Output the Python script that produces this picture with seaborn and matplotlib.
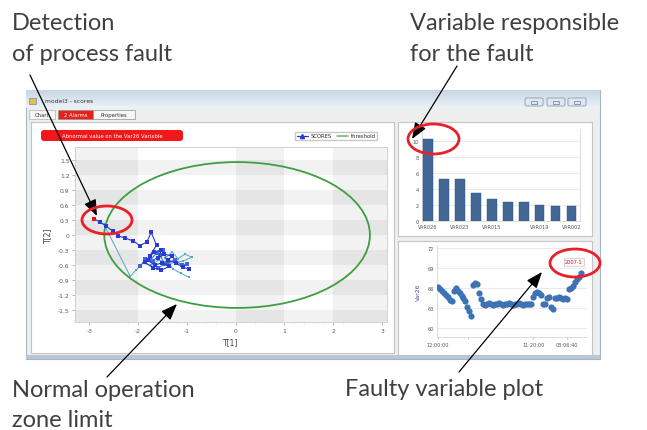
import numpy as np
import pandas as pd
import matplotlib
matplotlib.use("Agg")
import matplotlib.pyplot as plt
import seaborn as sns
from matplotlib.patches import Ellipse, Rectangle, FancyBboxPatch
from matplotlib.lines import Line2D

W, H = 647, 431

# ---------------- data ----------------
# score trajectory (T[1], T[2]) – main blue run, ends at the abnormal point
scores_a_t1 = [-0.95, -1.08, -1.22, -1.38, -1.30, -1.46, -1.58, -1.52, -1.68, -1.80, -1.66, -1.50, -1.36, -1.52,
               -1.70, -1.86, -1.76, -1.62, -1.73, -1.82, -1.96, -2.10, -2.26, -2.40, -2.52, -2.66, -2.78, -2.90]
scores_a_t2 = [-0.68, -0.64, -0.56, -0.50, -0.42, -0.38, -0.46, -0.30, -0.34, -0.50, -0.60, -0.55, -0.62, -0.70,
               -0.65, -0.54, -0.42, -0.20, 0.05, -0.14, -0.21, -0.12, -0.06, -0.02, 0.08, 0.18, 0.26, 0.32]
# lighter run
scores_b_t1 = [-0.96, -1.12, -1.28, -1.44, -1.30, -1.18, -1.04, -0.90, -1.08, -1.34, -1.58, -1.74, -1.90, -2.04, -2.16, -2.70]
scores_b_t2 = [-0.84, -0.76, -0.68, -0.46, -0.34, -0.47, -0.38, -0.44, -0.52, -0.56, -0.50, -0.60, -0.56, -0.70, -0.82, 0.22]
# dense cluster run
scores_c_t1 = [-1.95, -1.85, -1.70, -1.55, -1.45, -1.60, -1.75, -1.62, -1.48, -1.40, -1.25, -1.10, -1.00]
scores_c_t2 = [-0.62, -0.48, -0.52, -0.40, -0.58, -0.66, -0.50, -0.36, -0.30, -0.55, -0.50, -0.60, -0.58]
fault_t1 = [-2.90]
fault_t2 = [0.32]
# threshold ellipse (center, semi-axes)
threshold_center = (0.03, 0.0)
threshold_semi = (2.72, 1.45)

# contributions
contrib_rank = list(range(1, 11))
contrib_values = [10.3, 5.3, 5.2, 3.5, 2.8, 2.4, 2.4, 2.0, 1.85, 1.85]
contrib_ticklabels = ["VAR026", "", "VAR023", "", "VAR015", "", "", "VAR019", "", "VAR002"]

# Var26 time series
var26_values = [66.2, 65.9, 65.5, 65.2, 64.9, 64.6, 64.2, 64.0, 65.5, 66.0, 65.6, 65.2, 64.8, 64.5, 64.0, 63.2,
                62.5, 61.7, 66.5, 66.8, 66.6, 65.2, 64.4,
                63.6, 63.5, 63.6, 63.7, 63.6, 63.5, 63.6, 63.6, 63.7, 63.6, 63.5, 63.6, 63.6, 63.7, 63.6, 63.5,
                63.6, 63.6, 63.7, 63.6, 63.5, 63.6, 63.6, 63.6, 63.6,
                64.6, 65.2, 65.4, 65.3, 64.9, 63.6, 63.6, 64.5, 64.6, 63.2, 62.8, 64.5, 64.5, 64.6, 64.5, 64.4,
                64.5, 64.3, 65.8, 66.0, 66.3, 66.9, 67.3, 67.6, 68.2]
var26_ticklabels = ["12:00:00", "", "11:20:00", "03:06:40"]

# ---------------- figure ----------------
sns.set_theme(style="white")
plt.rcParams['font.family'] = ['DejaVu Sans']
fig = plt.figure(figsize=(W / 100, H / 100), dpi=100)
fig.patch.set_facecolor("white")


def rect(x0, y0, x1, y1):
    return [x0 / W, 1 - y1 / H, (x1 - x0) / W, (y1 - y0) / H]


bg = fig.add_axes([0, 0, 1, 1])
bg.set_xlim(0, W)
bg.set_ylim(H, 0)
bg.axis("off")

# window
bg.add_patch(Rectangle((26, 91), 574, 269, facecolor="#eeeeee", edgecolor="#a8b4c2", lw=0.8))
grad = np.linspace(0, 1, 50).reshape(-1, 1)
bg.imshow(grad, extent=(26, 600, 109, 91), cmap=matplotlib.colors.LinearSegmentedColormap.from_list(
    "t", ["#c8d5e4", "#edf2f8"]), aspect="auto", zorder=1)
bg.add_patch(Rectangle((26, 356), 574, 4, facecolor="#b8c6d6", edgecolor="none", zorder=2))
bg.add_patch(Rectangle((29, 99), 7, 6, facecolor="#e8c040", edgecolor="#6b86b5", lw=0.5, zorder=3))
bg.text(45, 102, "model3 - scores", fontsize=4.3, color="#333333", va="center", zorder=3)
for bx0 in (525, 547, 568):
    bg.add_patch(FancyBboxPatch((bx0, 99), 18, 8, boxstyle="round,pad=0,rounding_size=1.5",
                                facecolor="#dfe7f1", edgecolor="#8c9bb0", lw=0.6, zorder=3))
    bg.add_patch(Rectangle((bx0 + 6, 101.5), 6, 3, facecolor="none", edgecolor="#6a7a90", lw=0.5, zorder=4))
# tabs
bg.add_patch(Rectangle((29, 111), 26, 9, facecolor="#f6f6f6", edgecolor="#b0b0b0", lw=0.5))
bg.text(42, 115.5, "Chart", fontsize=3.8, color="#333", ha="center", va="center")
bg.add_patch(Rectangle((58, 111), 35, 9, facecolor="#e8201a", edgecolor="#909090", lw=0.5))
bg.text(75.5, 115.5, "2 Alarms", fontsize=3.8, color="white", ha="center", va="center")
bg.add_patch(Rectangle((93, 111), 42, 9, facecolor="#f6f6f6", edgecolor="#909090", lw=0.5))
bg.text(114, 115.5, "Properties", fontsize=3.8, color="#333", ha="center", va="center")
# panels
bg.add_patch(Rectangle((31, 123), 363, 231, facecolor="white", edgecolor="#c4c4c4", lw=0.8))
bg.add_patch(Rectangle((398, 123), 194, 114, facecolor="white", edgecolor="#c4c4c4", lw=0.8))
bg.add_patch(Rectangle((398, 242), 194, 114, facecolor="white", edgecolor="#c4c4c4", lw=0.8))
# alarm label
bg.add_patch(FancyBboxPatch((41, 131), 142, 11, boxstyle="round,pad=0,rounding_size=3",
                            facecolor="#f01818", edgecolor="none"))
bg.text(112, 136.5, "Abnormal value on the Var26 Variable", fontsize=3.8, color="white",
        ha="center", va="center")

# ---------------- scores plot ----------------
ax = fig.add_axes(rect(75, 148, 387, 323))
ax.set_xlim(-3.29, 3.1)
ax.set_ylim(-1.73, 1.75)
ax.set_facecolor("white")
for y0 in (1.2, 0.6, 0.0, -0.6, -1.2, -1.8):
    ax.axhspan(y0, y0 + 0.3, color="#000000", alpha=0.05, lw=0, zorder=0)
for x0, x1 in ((-3.4, -2.0), (0.0, 1.0), (2.0, 3.2)):
    ax.axvspan(x0, x1, color="#000000", alpha=0.05, lw=0, zorder=0)

ell = Ellipse(threshold_center, 2 * threshold_semi[0], 2 * threshold_semi[1], fill=False,
              edgecolor="#3f9e3f", lw=1.3, zorder=2)
ax.add_patch(ell)

sns.lineplot(x=scores_b_t1, y=scores_b_t2, sort=False, estimator=None, color="#55a6c8", marker="s",
             markersize=2.0, markeredgewidth=0, lw=0.7, ax=ax, legend=False, zorder=3)
sns.lineplot(x=scores_c_t1, y=scores_c_t2, sort=False, estimator=None, color="#3a6ad8", marker="s",
             markersize=2.2, markeredgewidth=0, lw=0.7, ax=ax, legend=False, zorder=3)
sns.lineplot(x=scores_a_t1, y=scores_a_t2, sort=False, estimator=None, color="#2a3ad0", marker="s",
             markersize=2.4, markeredgewidth=0, lw=0.8, ax=ax, legend=False, zorder=4)
sns.scatterplot(x=fault_t1, y=fault_t2, color="#ee1111", marker="s", s=7, linewidth=0, ax=ax, zorder=5)

ax.set_xticks(range(-3, 4))
ax.set_xticklabels([str(v) for v in range(-3, 4)])
yt = [1.5, 1.2, 0.9, 0.6, 0.3, 0.0, -0.3, -0.6, -0.9, -1.2, -1.5]
ax.set_yticks(yt)
ax.set_yticklabels(["0" if v == 0 else f"{v:g}" for v in yt])
ax.set_xticks(np.arange(-3.2, 3.11, 0.2), minor=True)
ax.set_yticks(np.arange(-1.7, 1.71, 0.1), minor=True)
ax.tick_params(axis="both", which="major", labelsize=4.3, labelcolor="#555555", length=2, width=0.5,
               color="#999999", pad=2, bottom=True, left=True)
ax.tick_params(axis="both", which="minor", length=1, width=0.4, color="#aaaaaa", bottom=True, left=True)
for s in ax.spines.values():
    s.set_color("#cccccc")
    s.set_linewidth(0.6)
ax.set_xlabel("T[1]", fontsize=5.5, color="#444444", labelpad=3)
ax.set_ylabel("T[2]", fontsize=5.5, color="#444444", labelpad=4)
ax.grid(False)

handles = [Line2D([], [], color="#2a3ad0", marker="^", markersize=3, lw=0.9),
           Line2D([], [], color="#6cbf6c", lw=1.2)]
ax.legend(handles, ["SCORES", "threshold"], loc="center", bbox_to_anchor=(336 / W, 1 - 137 / H),
          bbox_transform=fig.transFigure, ncol=2, fontsize=3.8, frameon=True, fancybox=False,
          edgecolor="#bbbbbb", handlelength=2.2, borderpad=0.35, columnspacing=1.0, handletextpad=0.4)

# ---------------- contributions bar chart ----------------
bx = fig.add_axes(rect(422, 130, 580, 222))
sns.barplot(x=contrib_rank, y=contrib_values, color="#3566a3", width=0.6, ax=bx, zorder=3,
            edgecolor="#2a4f80", linewidth=0.3)
bx.set_xlim(-0.36, 9.52)
bx.set_ylim(0, 11.5)
bx.set_yticks([0, 2, 4, 6, 8, 10])
bx.set_xticks(range(10))
bx.set_xticklabels(contrib_ticklabels)
bx.set_xlabel("")
bx.set_ylabel("")
bx.yaxis.grid(True, color="#e2e2e2", lw=0.5)
bx.tick_params(axis="both", labelsize=3.6, labelcolor="#555555", length=0, pad=2)
for k, s in bx.spines.items():
    s.set_color("#d0d0d0")
    s.set_linewidth(0.5)
bx.spines["top"].set_visible(False)

# ---------------- Var26 time series ----------------
tx = fig.add_axes(rect(437, 246, 587, 338))
idx = list(range(len(var26_values)))
sns.scatterplot(x=idx, y=var26_values, color="#3d72b4", s=20, linewidth=0, ax=tx, zorder=3)
tx.set_xlim(-0.3, 75)
tx.set_ylim(58.6, 72.5)
tx.set_yticks([60, 63, 66, 69, 72])
tx.set_xticks([0, 15.5, 48, 65])
tx.set_xticklabels(var26_ticklabels)
tx.yaxis.grid(True, color="#e2e2e2", lw=0.5)
tx.tick_params(axis="both", labelsize=3.6, labelcolor="#555555", length=1.5, width=0.4, color="#999",
               pad=2, bottom=True)
tx.tick_params(axis="y", length=0)
for s in tx.spines.values():
    s.set_color("#d0d0d0")
    s.set_linewidth(0.5)
tx.spines["top"].set_visible(False)
tx.spines["right"].set_visible(False)
tx.set_ylabel("Var26", fontsize=4.3, color="#4a4aa8", labelpad=5)

# ---------------- overlay: annotations ----------------
fg = fig.add_axes([0, 0, 1, 1], facecolor="none")
fg.set_xlim(0, W)
fg.set_ylim(H, 0)
fg.axis("off")

fg.text(565, 262.5, "2007-1", fontsize=3.6, color="#d02020", ha="left", va="center",
        bbox=dict(boxstyle="square,pad=0.3", facecolor="#f7f7f7", edgecolor="#bbbbbb", lw=0.4))

red = "#e8202a"
for cx, cy, ew, eh in ((107, 221, 50, 28), (433.5, 140, 51, 30), (575, 264, 50, 28)):
    fg.add_patch(Ellipse((cx, cy), ew, eh, fill=False, edgecolor=red, lw=2.0, zorder=10))

ap = dict(arrowstyle="-|>,head_length=0.9,head_width=0.35", color="black", lw=0.9,
          mutation_scale=11, shrinkA=0, shrinkB=0)
fg.annotate("", xy=(97, 217), xytext=(30, 76), arrowprops=ap)
fg.annotate("", xy=(412, 140), xytext=(457, 67), arrowprops=ap)
fg.annotate("", xy=(177, 305), xytext=(107, 378), arrowprops=ap)
fg.annotate("", xy=(542, 273), xytext=(459, 373), arrowprops=ap)

tfont = dict(family=["Lato", "DejaVu Sans"], fontsize=17, color="#404040", va="baseline", ha="left")
fg.text(12, 30, "Detection", **tfont)
fg.text(12, 61, "of process fault", **tfont)
fg.text(410, 30, "Variable responsible", **tfont)
fg.text(410, 61, "for the fault", **tfont)
fg.text(12, 397, "Normal operation", **tfont)
fg.text(12, 427, "zone limit", **tfont)
fg.text(345, 396, "Faulty variable plot", **tfont)

fig.savefig("out.png", dpi=100, facecolor="white")
